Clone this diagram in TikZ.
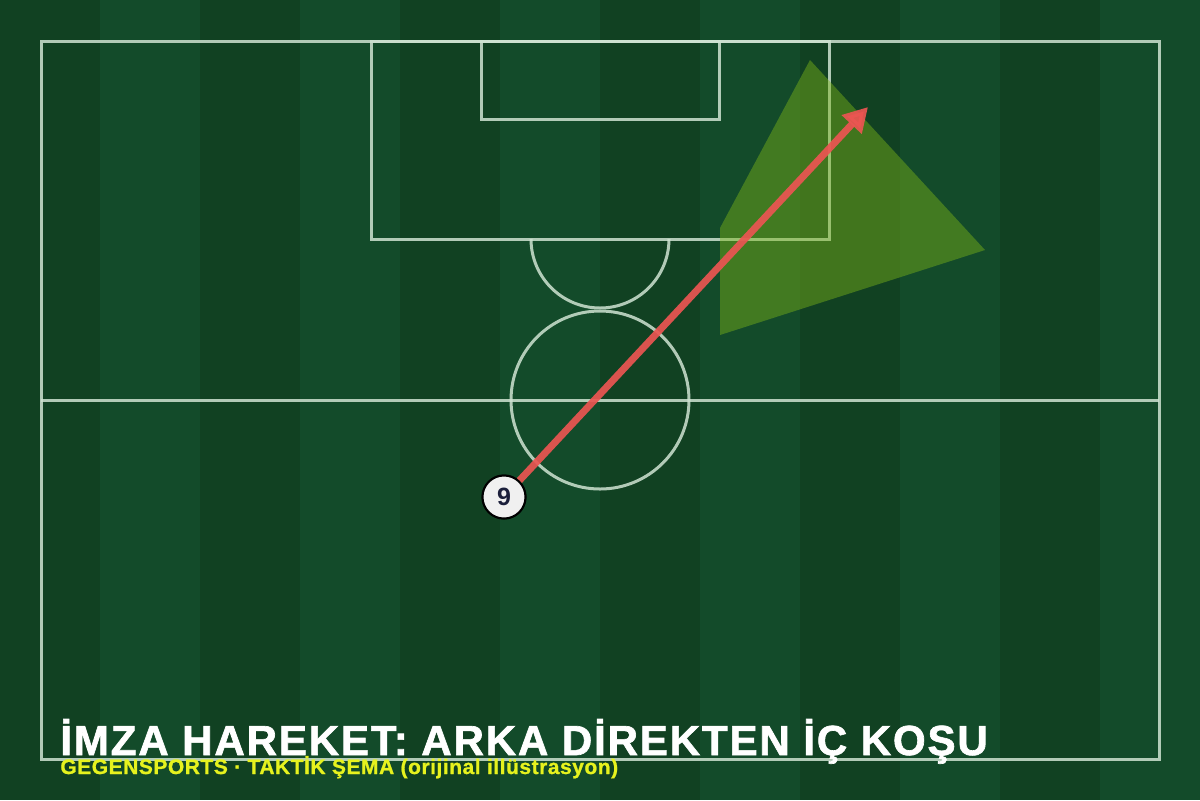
\documentclass[tikz,border=0pt]{standalone}
\usepackage{fontspec}
\setmainfont{Liberation Sans}
\usepackage{tikz}
\usetikzlibrary{arrows.meta}
\definecolor{pitchdark}{HTML}{114122}
\definecolor{pitchlight}{HTML}{134B2A}
\definecolor{pitchline}{HTML}{CFE3D2}
\definecolor{runred}{HTML}{EC5552}
\definecolor{zonegreen}{HTML}{7CB518}
\definecolor{shirtnavy}{HTML}{1B1F3B}
\definecolor{credityellow}{HTML}{E6F21E}
\tikzset{
    pitch line/.style={draw=pitchline, line width=1.5pt, opacity=0.85},
    player/.style={circle, draw=black, line width=1pt, fill=white!94!black,
        minimum size=21.5pt, inner sep=0pt, text=shirtnavy,
        font=\bfseries\fontsize{12.5}{12.5}\selectfont},
    run arrow/.style={draw=runred, opacity=0.92, line width=3.5pt,
        -{Triangle[length=12pt,width=13pt]}},
    caption/.style={anchor=base west, inner sep=0pt},
}

\begin{document}
\begin{tikzpicture}[x=0.5pt, y=-0.5pt]
\useasboundingbox (0,0) rectangle (1200,800);
% grass stripes
\fill[pitchdark] (0,0) rectangle (1200,800);
\foreach \x in {100,300,...,1100}
    \fill[pitchlight] (\x,0) rectangle ++(100,800);
% markings
\draw[pitch line] (41,41) rectangle (1159,759);
\draw[pitch line] (41,400) -- (1159,400);
\draw[pitch line] (600,400) circle[radius=89];
\draw[pitch line] (371,41) rectangle (829,239);
\draw[pitch line] (481,41) rectangle (719,119);
\draw[pitch line] (669,239) arc[start angle=0, end angle=180, radius=69];
% target zone at the far post
\fill[zonegreen, fill opacity=0.45] (720,335) -- (720,228) -- (810,60) -- (985,250) -- cycle;
% the run
\coordinate (target) at (868,107);
\node[player] (nine) at (504,497) {9};
\draw[run arrow] (nine) -- (target);
\node[player] at (nine) {\raisebox{-1pt}{9}};
% captions
\node[caption, text=white, font=\bfseries\fontsize{21}{21}\selectfont\addfontfeatures{LetterSpace=4.5,FakeBold=1.6}] (title) at (60,755)
    {İMZA HAREKET: ARKA DİREKTEN İÇ KOŞU};
\node[caption, text=credityellow, font=\bfseries\fontsize{10.5}{10.5}\selectfont\addfontfeatures{LetterSpace=2.5,FakeBold=1}] (credit) at (60,774)
    {GEGENSPORTS · TAKTİK ŞEMA (orijinal illüstrasyon)};
\end{tikzpicture}
\end{document}
